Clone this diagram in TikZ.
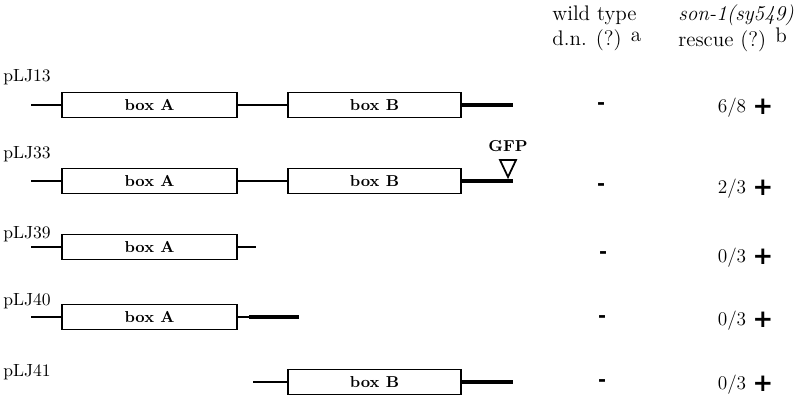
\documentclass[tikz,border=0pt]{standalone}
\usepackage{fontspec}
\newfontfamily\signfont{DejaVu Sans}
\usetikzlibrary{positioning}

\tikzset{
  gene/.style={draw, line width=1pt, fill=white, minimum height=0.5cm, inner sep=0pt, font=\small\bfseries},
  boxa/.style={gene, minimum width=3.5cm},
  boxb/.style={gene, minimum width=3.46cm},
  intron/.style={line width=1pt},
  tail/.style={line width=2.4pt},
  plasmid/.style={anchor=west, inner sep=0pt, font=\normalsize},
  head/.style={anchor=west, inner sep=0pt, font=\large},
  dn/.style={inner sep=0pt, font=\signfont\bfseries\fontsize{11}{13}\selectfont},
  ratio/.style={inner sep=0pt, font=\fontsize{11}{13}\selectfont},
  plus/.style={inner sep=0pt, font=\signfont\bfseries\fontsize{14}{16}\selectfont},
}

\begin{document}
\begin{tikzpicture}[x=0.02cm, y=-0.02cm]
    \useasboundingbox (0,0) rectangle (800,400);

    % column heads
    \node[head] (wt) at (552,15) {wild type};
    \node[head] (wtdn) at (552,40) {d.n. (?) \raisebox{0.45ex}{a}};
    \node[head] (son) at (678,15) {\itshape son-1(sy549)};
    \node[head] (res) at (678,40) {rescue (?) \raisebox{0.45ex}{b}};

    % pLJ13
    \node[plasmid] (n13) at (3,77) {pLJ13};
    \node[boxa] (a13) at (149.5,105) {box A};
    \node[boxb] (b13) at (374.5,105) {box B};
    \coordinate (s13) at (31,105);
    \coordinate (e13) at (513,105);
    \draw[intron] (s13) -- (a13.west);
    \draw[intron] (a13.east) -- (b13.west);
    \draw[tail] (b13.east) -- (e13);
    \node[dn] (d13) at (601,106) {-};
    \node[ratio] (r13) at (732,108) {6/8};
    \node[plus] (p13) at (763,107) {+};

    % pLJ33
    \node[plasmid] (n33) at (3,154) {pLJ33};
    \node[boxa] (a33) at (149.5,181) {box A};
    \node[boxb] (b33) at (374.5,181) {box B};
    \coordinate (s33) at (31,181);
    \coordinate (e33) at (513,181);
    \draw[intron] (s33) -- (a33.west);
    \draw[intron] (a33.east) -- (b33.west);
    \draw[tail] (b33.east) -- (e33);
    \draw[line width=1pt] (500,160) -- (516,160) -- (508,177) -- cycle;
    \node[inner sep=0pt, font=\small\bfseries] (gfp) at (508,146) {GFP};
    \node[dn] (d33) at (601,187) {-};
    \node[ratio] (r33) at (732,189) {2/3};
    \node[plus] (p33) at (763,188) {+};

    % pLJ39
    \node[plasmid] (n39) at (3,234) {pLJ39};
    \node[boxa] (a39) at (149.5,247) {box A};
    \coordinate (s39) at (31,247);
    \coordinate (e39) at (256,247);
    \draw[intron] (s39) -- (a39.west);
    \draw[intron] (a39.east) -- (e39);
    \node[dn] (d39) at (603,255) {-};
    \node[ratio] (r39) at (732,258) {0/3};
    \node[plus] (p39) at (763,257) {+};

    % pLJ40
    \node[plasmid] (n40) at (3,301) {pLJ40};
    \node[boxa] (a40) at (149.5,317) {box A};
    \coordinate (s40) at (31,317);
    \coordinate (m40) at (249,317);
    \coordinate (e40) at (299,317);
    \draw[intron] (s40) -- (a40.west);
    \draw[intron] (a40.east) -- (m40);
    \draw[tail] (m40) -- (e40);
    \node[dn] (d40) at (602,319) {-};
    \node[ratio] (r40) at (732,321) {0/3};
    \node[plus] (p40) at (763,320) {+};

    % pLJ41
    \node[plasmid] (n41) at (3,372) {pLJ41};
    \node[boxb] (b41) at (374.5,382) {box B};
    \coordinate (s41) at (253,382);
    \coordinate (e41) at (513,382);
    \draw[intron] (s41) -- (b41.west);
    \draw[tail] (b41.east) -- (e41);
    \node[dn] (d41) at (602,383) {-};
    \node[ratio] (r41) at (732,385) {0/3};
    \node[plus] (p41) at (763,384) {+};
\end{tikzpicture}
\end{document}
